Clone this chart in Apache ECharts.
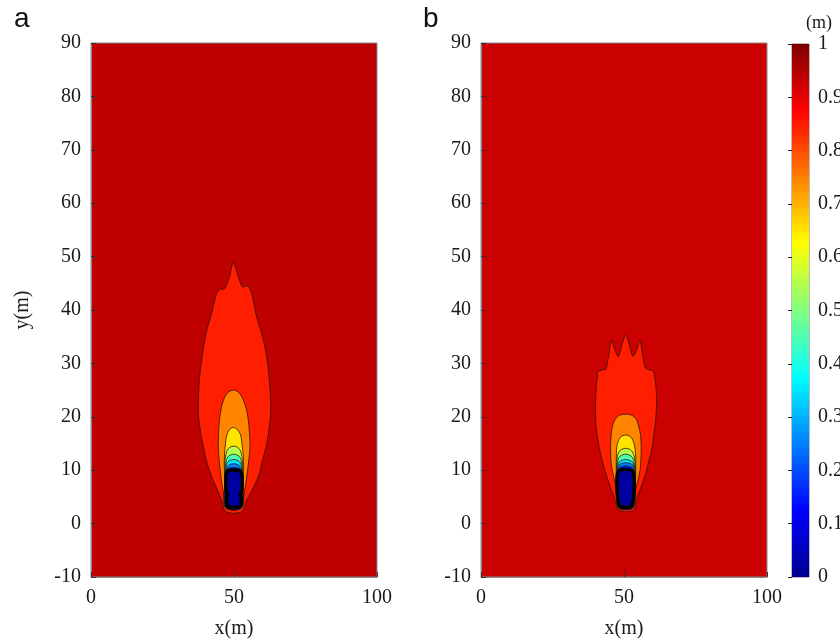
<!DOCTYPE html>
<html>
<head>
<meta charset="utf-8">
<script src="https://cdn.jsdelivr.net/npm/echarts@6/dist/echarts.min.js"></script>
<style>
  html, body { margin: 0; padding: 0; background: #fff; }
  #chart { width: 840px; height: 642px; }
</style>
</head>
<body>
<div id="chart"></div>
<script>
// Axis ranges and tick labels
const xRange = [0, 100];
const yRange = [-10, 90];
const xTickStep = 50;
const yTickStep = 10;
const colorbarRange = [0, 1];
const colorbarStep = 0.1;

// Contour lines of panel a, as [x, y] in metres, outermost (0.9) to innermost (0.1)
const a90 = [[47.2,2.2],[45.7,4.4],[44.0,6.5],[42.2,8.8],[40.5,11.5],[39.3,14.4],[38.2,17.5],[37.5,20.7],[37.6,24.0],[37.9,27.0],[38.7,30.6],[40.2,35.6],[42.2,39.4],[43.9,43.1],[45.3,43.9],[46.4,43.9],[46.9,44.1],[48.4,46.2],[49.8,48.9],[51.5,46.2],[53.0,44.3],[54.0,44.5],[55.0,44.4],[56.2,43.1],[57.9,38.7],[60.0,35.0],[61.6,30.6],[62.6,25.0],[62.8,20.7],[62.2,17.5],[61.2,14.4],[59.8,11.5],[58.5,8.8],[56.5,6.5],[54.4,4.4],[52.7,2.2]];
const a80 = [[47.0,3.5],[46.6,5.0],[45.9,7.0],[45.3,9.4],[44.8,12.0],[44.5,14.4],[44.6,17.0],[44.9,19.4],[45.5,21.5],[46.3,23.1],[47.8,24.5],[49.8,25.0],[51.8,24.5],[53.3,23.1],[54.3,21.5],[55.0,19.4],[55.4,17.0],[55.6,14.4],[55.2,12.0],[54.6,9.4],[54.0,7.0],[53.3,5.0],[52.7,3.5]];
const a70 = [[47.4,4.0],[47.0,7.0],[46.6,10.7],[46.7,13.0],[46.9,14.4],[47.2,15.8],[47.7,16.9],[48.6,17.7],[49.8,18.0],[51.0,17.7],[52.1,16.9],[52.6,15.8],[52.9,14.4],[53.2,13.0],[53.3,10.7],[53.0,7.0],[52.5,4.0]];
const a60 = [[47.0,3.0],[46.8,8.0],[46.8,11.0],[47.0,12.5],[47.6,13.7],[48.6,14.3],[49.9,14.5],[51.2,14.3],[52.2,13.7],[52.8,12.5],[53.1,11.0],[53.1,8.0],[52.8,3.0]];
const a50 = [[47.1,3.0],[46.9,8.0],[47.0,10.5],[47.3,11.8],[48.0,12.6],[49.9,13.0],[51.8,12.6],[52.5,11.8],[52.9,10.5],[53.0,8.0],[52.7,3.0]];
const a40 = [[47.1,3.0],[47.0,8.0],[47.1,10.2],[47.5,11.3],[48.4,11.8],[49.9,12.0],[51.4,11.8],[52.3,11.3],[52.8,10.2],[52.9,8.0],[52.6,3.0]];
const a30 = [[47.2,3.0],[47.0,8.0],[47.2,9.9],[47.7,10.7],[48.7,11.1],[49.9,11.2],[51.1,11.1],[52.1,10.7],[52.7,9.9],[52.9,8.0],[52.6,3.0]];
const a20 = [[47.3,3.0],[47.1,8.0],[47.3,9.7],[47.9,10.3],[49.9,10.5],[51.9,10.3],[52.6,9.7],[52.8,8.0],[52.5,3.0]];
const a10 = [[47.8,3.2],[47.4,4.5],[47.6,5.5],[47.2,6.5],[47.2,9.0],[47.6,9.7],[48.5,10.0],[51.3,10.0],[52.3,9.7],[52.8,9.0],[52.8,6.5],[52.3,5.5],[52.6,4.5],[52.1,3.2]];

// Contour lines of panel b
const b90 = [[48.3,2.5],[46.5,5.0],[45.0,7.2],[43.6,9.4],[42.3,12.0],[41.3,14.4],[40.5,17.0],[40.1,19.4],[40.1,23.1],[40.4,26.0],[40.7,27.5],[40.9,28.4],[42.5,28.8],[43.6,28.9],[44.5,31.0],[45.6,34.3],[46.8,32.5],[48.0,31.3],[49.3,33.5],[50.6,35.3],[51.8,33.5],[53.1,31.3],[54.4,32.5],[55.6,34.3],[56.7,31.0],[57.6,29.1],[58.8,28.8],[60.2,28.6],[60.7,27.5],[61.1,26.0],[61.4,23.1],[61.1,19.4],[60.5,17.0],[59.9,14.4],[58.8,12.0],[57.6,9.4],[56.2,7.2],[54.7,5.0],[53.3,2.5]];
const b80 = [[48.3,4.0],[47.7,5.7],[46.8,7.8],[45.9,10.0],[45.4,12.0],[45.3,14.4],[45.5,16.5],[45.9,18.1],[46.9,19.5],[48.5,20.3],[50.6,20.5],[52.7,20.3],[54.3,19.5],[55.2,18.1],[55.8,16.5],[56.0,14.4],[55.9,12.0],[55.6,10.0],[54.7,7.8],[53.7,5.7],[52.9,4.0]];
const b70 = [[48.2,3.5],[47.6,6.0],[47.3,8.0],[47.3,10.0],[47.3,12.5],[47.4,13.8],[47.7,15.0],[48.8,16.2],[50.6,16.6],[52.4,16.2],[53.5,15.0],[53.9,13.8],[54.1,12.5],[54.1,10.0],[54.0,8.0],[53.6,6.0],[53.0,3.5]];
const b60 = [[48.0,3.0],[47.5,7.0],[47.4,10.5],[47.6,12.3],[48.2,13.4],[49.2,13.9],[50.6,14.1],[52.0,13.9],[53.0,13.4],[53.7,12.3],[54.0,10.5],[53.9,7.0],[53.3,3.0]];
const b50 = [[48.1,3.0],[47.6,7.0],[47.5,10.3],[47.8,11.7],[48.6,12.6],[50.6,13.0],[52.6,12.6],[53.4,11.7],[53.8,10.3],[53.8,7.0],[53.2,3.0]];
const b40 = [[48.1,3.0],[47.6,7.0],[47.6,10.2],[48.0,11.3],[49.0,11.8],[50.6,12.0],[52.2,11.8],[53.2,11.3],[53.6,10.2],[53.7,7.0],[53.1,3.0]];
const b30 = [[48.2,3.0],[47.6,7.0],[47.6,10.0],[48.1,10.9],[49.2,11.3],[50.6,11.4],[52.0,11.3],[53.1,10.9],[53.6,10.0],[53.6,7.0],[53.0,3.0]];
const b20 = [[48.3,3.0],[47.6,7.0],[47.7,9.8],[48.4,10.5],[50.6,10.8],[52.8,10.5],[53.5,9.8],[53.6,7.0],[52.9,3.0]];
const b10 = [[48.7,3.2],[47.9,4.5],[47.6,5.8],[47.6,9.0],[48.2,9.8],[49.2,10.1],[51.9,10.1],[52.9,9.8],[53.5,9.0],[53.5,5.8],[53.2,4.5],[52.4,3.2]];

// jet colours of the filled bands (0.8-0.9 ... 0-0.1), and the 0.9-1 background of each panel
const bandFill = ['#FF1E00', '#FF8400', '#FFE400', '#B3FF4D', '#4DFFB3', '#00E6FF', '#0080FF', '#001AFF', '#00009E'];
const bgA = '#BE0000';
const bgB = '#CB0000';

const serif = '"Liberation Serif", "Times New Roman", serif';
const tickColor = '#1a1a1a';

function contourSeries(polys, axisIdx) {
  return {
    type: 'custom',
    coordinateSystem: 'cartesian2d',
    xAxisIndex: axisIdx,
    yAxisIndex: axisIdx,
    clip: true,
    silent: true,
    z: 3,
    data: polys.map((p, i) => [i, 0]),
    renderItem: function (params, api) {
      const i = params.dataIndex;
      const pts = polys[i].map(q => api.coord(q));
      const isCore = i === polys.length - 1;
      return {
        type: 'polygon',
        z2: i,
        shape: { points: pts, smooth: 0.3 },
        style: {
          fill: bandFill[i],
          stroke: isCore ? '#000' : '#2b1408',
          lineWidth: isCore ? 3.4 : 0.8
        }
      };
    }
  };
}

function mainX(gridIndex) {
  return {
    type: 'value', gridIndex, min: xRange[0], max: xRange[1], interval: xTickStep,
    name: 'x(m)', nameLocation: 'middle', nameGap: 42,
    nameTextStyle: { fontFamily: serif, fontSize: 20, color: tickColor },
    axisLine: { show: true, onZero: false, lineStyle: { color: '#8a8a8a', width: 1 } },
    axisTick: { show: true, inside: true, length: 5, lineStyle: { color: '#333' } },
    axisLabel: { fontFamily: serif, fontSize: 20, color: tickColor, margin: 11 },
    splitLine: { show: false }
  };
}
function mainY(gridIndex, withName) {
  return {
    type: 'value', gridIndex, min: yRange[0], max: yRange[1], interval: yTickStep,
    name: withName ? 'y(m)' : '', nameLocation: 'middle', nameGap: 58, nameRotate: 90,
    nameTextStyle: { fontFamily: serif, fontSize: 20, color: tickColor },
    axisLine: { show: true, onZero: false, lineStyle: { color: '#8a8a8a', width: 1 } },
    axisTick: { show: true, inside: true, length: 5, lineStyle: { color: '#333' } },
    axisLabel: { fontFamily: serif, fontSize: 20, color: tickColor, margin: 10 },
    splitLine: { show: false }
  };
}

const chart = echarts.init(document.getElementById('chart'), null, { renderer: 'canvas' });

const jetStops = [
  { offset: 0, color: '#000090' },
  { offset: 0.125, color: '#0000FF' },
  { offset: 0.375, color: '#00FFFF' },
  { offset: 0.625, color: '#FFFF00' },
  { offset: 0.875, color: '#FF0000' },
  { offset: 1, color: '#800000' }
];

chart.setOption({
  animation: false,
  backgroundColor: '#ffffff',
  title: [
    { text: 'a', left: 9, top: 0, textStyle: { fontFamily: '"Liberation Sans", Arial, sans-serif', fontSize: 28, fontWeight: 'normal', color: '#111' } },
    { text: 'b', left: 418, top: 0, textStyle: { fontFamily: '"Liberation Sans", Arial, sans-serif', fontSize: 28, fontWeight: 'normal', color: '#111' } }
  ],
  grid: [
    { left: 91, top: 43, width: 286, height: 534, outerBoundsMode: 'none', show: true, backgroundColor: bgA, borderColor: '#8a8a8a', borderWidth: 1 },
    { left: 481, top: 43, width: 286, height: 534, outerBoundsMode: 'none', show: true, backgroundColor: bgB, borderColor: '#8a8a8a', borderWidth: 1 },
    { left: 792, top: 44, width: 17, height: 533, outerBoundsMode: 'none', show: true, backgroundColor: 'transparent', borderColor: '#777', borderWidth: 1 }
  ],
  xAxis: [
    mainX(0),
    mainX(1),
    { type: 'value', gridIndex: 2, min: 0, max: 1, show: false }
  ],
  yAxis: [
    mainY(0, true),
    mainY(1, false),
    {
      type: 'value', gridIndex: 2, position: 'right', min: colorbarRange[0], max: colorbarRange[1], interval: colorbarStep,
      name: '(m)', nameLocation: 'end', nameGap: 12,
      nameTextStyle: { fontFamily: serif, fontSize: 18, color: tickColor, padding: [0, 0, 0, 54] },
      axisLine: { show: false },
      axisTick: { show: true, inside: true, length: 4, lineStyle: { color: '#222' } },
      axisLabel: {
        fontFamily: serif, fontSize: 20, color: tickColor, margin: 9,
        formatter: v => (v === 0 || v === 1) ? String(v) : v.toFixed(1)
      },
      splitLine: { show: false }
    }
  ],
  series: [
    contourSeries([a90, a80, a70, a60, a50, a40, a30, a20, a10], 0),
    contourSeries([b90, b80, b70, b60, b50, b40, b30, b20, b10], 1),
    {
      type: 'custom',
      coordinateSystem: 'cartesian2d',
      xAxisIndex: 2,
      yAxisIndex: 2,
      silent: true,
      z: 1,
      data: [[colorbarRange[0], colorbarRange[1]]],
      renderItem: function (params, api) {
        const p0 = api.coord([0, colorbarRange[0]]);
        const p1 = api.coord([1, colorbarRange[1]]);
        return {
          type: 'rect',
          shape: { x: p0[0], y: p1[1], width: p1[0] - p0[0], height: p0[1] - p1[1] },
          style: { fill: new echarts.graphic.LinearGradient(0, 1, 0, 0, jetStops) }
        };
      }
    }
  ]
});
</script>
</body>
</html>
